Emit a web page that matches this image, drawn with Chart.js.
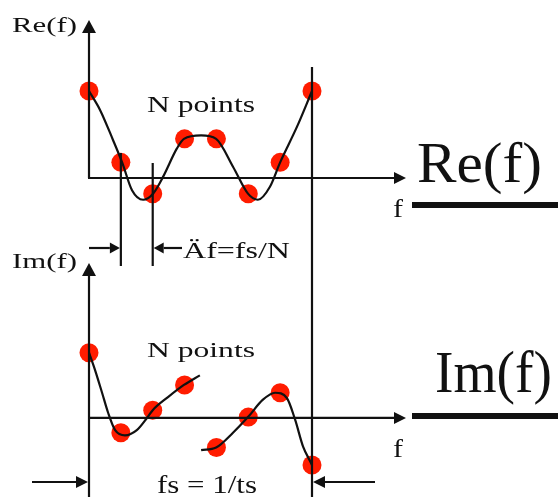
<!DOCTYPE html>
<html><head><meta charset="utf-8">
<script src="https://cdn.jsdelivr.net/npm/chart.js@4"></script>
<style>html,body{margin:0;padding:0;background:#fff}canvas{display:block}</style>
</head><body>
<canvas id="c" width="558" height="500"></canvas>
<script>
// Sample index (f axis, in units of Δf)
const sampleIndex = [0, 1, 2, 3, 4, 5, 6, 7];
// Sampled values (red dots)
const reSamples = [1.00, 0.18, -0.18, 0.45, 0.45, -0.18, 0.18, 1.00];
const imSamples = [0.75, -0.17, 0.09, 0.38, -0.34, 0.01, 0.29, -0.54];
// Continuous curves
const reCurveX = [0, 0.35, 0.75, 1.04, 1.35, 1.70, 2.01, 2.32, 2.76, 2.98, 3.52, 3.99, 4.52, 4.99, 5.30, 5.68, 6.00, 6.53, 7.00];
const reCurveY = [1.00, 0.78, 0.44, 0.18, -0.14, -0.25, -0.18, 0.01, 0.34, 0.45, 0.49, 0.45, 0.13, -0.18, -0.25, -0.10, 0.18, 0.59, 1.00];
const imCurve1X = [0, 0.19, 0.41, 0.60, 0.82, 1.13, 1.50, 1.82, 2.00, 2.48, 2.98, 3.48];
const imCurve1Y = [0.75, 0.55, 0.29, 0.06, -0.14, -0.20, -0.14, 0.00, 0.09, 0.24, 0.38, 0.49];
const imCurve2X = [3.52, 3.99, 4.52, 4.99, 5.46, 5.84, 6.21, 6.47, 6.72, 7.00, 7.09];
const imCurve2Y = [-0.37, -0.34, -0.17, 0.01, 0.21, 0.29, 0.23, -0.02, -0.33, -0.54, -0.62];

const RED = 'rgb(255,28,0)';
const INK = '#111111';
const FONT = '"Liberation Serif", "Times New Roman", serif';

function pts(xs, ys) { return xs.map((x, i) => ({ x: x, y: ys[i] })); }

function arrow(ctx, x1, y1, x2, y2, len, half) {
  ctx.beginPath(); ctx.moveTo(x1, y1);
  const a = Math.atan2(y2 - y1, x2 - x1);
  const bx = x2 - Math.cos(a) * len, by = y2 - Math.sin(a) * len;
  ctx.lineTo(bx, by); ctx.stroke();
  ctx.beginPath();
  ctx.moveTo(x2, y2);
  ctx.lineTo(bx + Math.sin(a) * half, by - Math.cos(a) * half);
  ctx.lineTo(bx - Math.sin(a) * half, by + Math.cos(a) * half);
  ctx.closePath(); ctx.fill();
}
function line(ctx, x1, y1, x2, y2) { ctx.beginPath(); ctx.moveTo(x1, y1); ctx.lineTo(x2, y2); ctx.stroke(); }
function fitText(ctx, s, x, base, w, size) {
  ctx.font = size + 'px ' + FONT;
  const m = ctx.measureText(s).width;
  ctx.save(); ctx.translate(x, base); ctx.scale(w / m, 1); ctx.fillText(s, 0, 0); ctx.restore();
}

const diagram = {
  id: 'diagram',
  afterDatasetsDraw(chart) {
    const ctx = chart.ctx, xs = chart.scales.x, yr = chart.scales.yRe, yi = chart.scales.yIm;
    const x0 = xs.getPixelForValue(0), x1 = xs.getPixelForValue(1), x2 = xs.getPixelForValue(2), x7 = xs.getPixelForValue(7);
    const yr0 = yr.getPixelForValue(0), yi0 = yi.getPixelForValue(0);
    ctx.save();
    ctx.strokeStyle = INK; ctx.fillStyle = INK; ctx.lineWidth = 2.2; ctx.lineCap = 'butt';
    // Re axes
    arrow(ctx, x0, yr0, x0, 20, 13, 7);
    arrow(ctx, x0 - 1, yr0, 406, yr0, 12, 6);
    // Im axes
    line(ctx, x0, 497, x0, yi0);
    arrow(ctx, x0, yi0, x0, 263, 13, 7);
    arrow(ctx, x0 - 1, yi0, 406, yi0, 12, 6);
    // vertical marker lines
    line(ctx, x1, 153, x1, 266);
    line(ctx, x2, 163, x2, 266);
    line(ctx, x7, 67, x7, 497);
    // Δf dimension arrows
    arrow(ctx, x0, 248, x1 - 1, 248, 10, 5.5);
    arrow(ctx, 182, 248, x2 + 1, 248, 10, 5.5);
    // fs dimension arrows
    arrow(ctx, 32, 482, x0 - 1, 482, 12, 6);
    arrow(ctx, 375, 482, x7 + 1, 482, 12, 6);
    // legend bars
    ctx.fillRect(412, 202, 146, 6);
    ctx.fillRect(412, 413, 146, 6);
    // texts
    ctx.textBaseline = 'alphabetic'; ctx.textAlign = 'left';
    fitText(ctx, 'Re(f)', 12, 32, 65, 22);
    fitText(ctx, 'N points', 147, 112, 108, 23);
    fitText(ctx, 'f', 393, 217, 10, 26);
    fitText(ctx, '\u00C4f=fs/N', 183, 258, 107, 23);
    fitText(ctx, 'Im(f)', 12, 268, 65, 22);
    fitText(ctx, 'N points', 147, 357, 108, 22);
    fitText(ctx, 'fs = 1/ts', 157, 493, 100, 25);
    fitText(ctx, 'f', 393, 457, 10, 26);
    fitText(ctx, 'Re(f)', 417, 182, 125, 56);
    fitText(ctx, 'Im(f)', 435, 392, 117, 60);
    ctx.restore();
  }
};

new Chart(document.getElementById('c'), {
  type: 'scatter',
  data: {
    datasets: [
      { type: 'line', data: pts(reCurveX, reCurveY), yAxisID: 'yRe', borderColor: INK, borderWidth: 2.2, pointRadius: 0, cubicInterpolationMode: 'monotone', fill: false, order: 0 },
      { type: 'line', data: pts(imCurve1X, imCurve1Y), yAxisID: 'yIm', borderColor: INK, borderWidth: 2.2, pointRadius: 0, cubicInterpolationMode: 'monotone', fill: false, order: 0 },
      { type: 'line', data: pts(imCurve2X, imCurve2Y), yAxisID: 'yIm', borderColor: INK, borderWidth: 2.2, pointRadius: 0, cubicInterpolationMode: 'monotone', fill: false, order: 0 },
      { data: pts(sampleIndex, reSamples), yAxisID: 'yRe', pointRadius: 9.5, backgroundColor: RED, borderWidth: 0, order: 1 },
      { data: pts(sampleIndex, imSamples), yAxisID: 'yIm', pointRadius: 9.5, backgroundColor: RED, borderWidth: 0, order: 1 }
    ]
  },
  options: {
    responsive: false, animation: false, events: [],
    clip: false,
    layout: { autoPadding: false, padding: { left: 89, right: 246, top: 0, bottom: 0 } },
    plugins: { legend: { display: false }, tooltip: { enabled: false } },
    scales: {
      x: { type: 'linear', min: 0, max: 7, display: false },
      yRe: { type: 'linear', position: 'left', min: -3.701, max: 2.046, display: false },
      yIm: { type: 'linear', position: 'left', min: -0.943, max: 4.805, display: false }
    }
  },
  plugins: [diagram]
});
</script>
</body></html>
